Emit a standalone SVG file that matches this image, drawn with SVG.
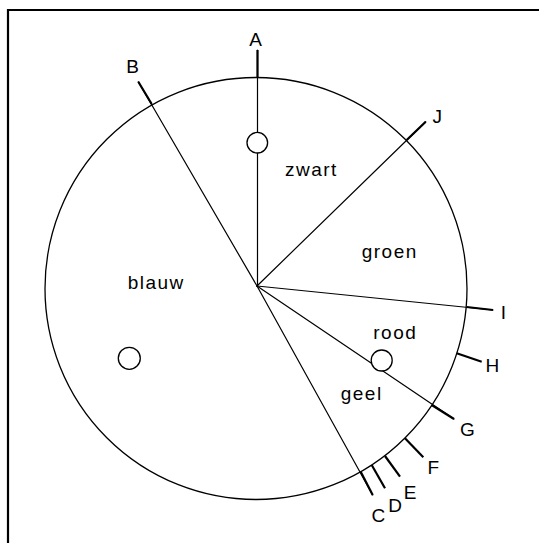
<svg xmlns="http://www.w3.org/2000/svg" width="539" height="543" viewBox="0 0 539 543">
<style>
.thin{stroke:#000;stroke-width:1.2;fill:none;stroke-linecap:round}
.tick{stroke:#000;stroke-width:2.2;fill:none;stroke-linecap:butt}
.ring{stroke:#000;stroke-width:1.3;fill:#fff}
.lab{font-family:"Liberation Sans",Arial,sans-serif;font-size:19px;fill:#000;text-anchor:middle}
.sec{font-family:"Liberation Sans",Arial,sans-serif;font-size:19px;fill:#000;letter-spacing:1.5px}
</style>
<rect x="0" y="0" width="539" height="543" fill="#fff"/>
<g id="frame">
<line x1="7" y1="10" x2="539" y2="10" stroke="#000" stroke-width="2.2"/>
<line x1="8" y1="9" x2="8" y2="543" stroke="#000" stroke-width="2.2"/>
</g>
<g id="disc">
<circle cx="256" cy="288.5" r="211" fill="none" stroke="#000" stroke-width="1.3"/>
</g>
<g id="connectors">
<line class="thin" x1="257.5" y1="286" x2="257.5" y2="50"/>
<line class="tick" x1="257.5" y1="78" x2="257.5" y2="50"/>
<line class="thin" x1="257" y1="286" x2="138.3" y2="81.7"/>
<line class="tick" x1="151.7" y1="104" x2="138.3" y2="81.7"/>
<line class="thin" x1="257" y1="286" x2="425.7" y2="121.7"/>
<line class="tick" x1="406.7" y1="140" x2="425.7" y2="121.7"/>
<line class="thin" x1="257" y1="286" x2="493" y2="310"/>
<line class="tick" x1="466.7" y1="307" x2="493" y2="310"/>
<line class="tick" x1="456.7" y1="353.3" x2="481.7" y2="361.7"/>
<line class="thin" x1="257" y1="286" x2="454" y2="419"/>
<line class="tick" x1="431.7" y1="405" x2="454" y2="419"/>
<line class="tick" x1="405" y1="438.3" x2="423.3" y2="457.3"/>
<line class="tick" x1="385" y1="456" x2="400" y2="476.7"/>
<line class="tick" x1="371.7" y1="465" x2="385" y2="488.3"/>
<line class="thin" x1="257" y1="286" x2="372.7" y2="495"/>
<line class="tick" x1="360.7" y1="471.7" x2="372.7" y2="495"/>
</g>
<g id="marker-zwart"><circle class="ring" cx="257.3" cy="142.7" r="10.3"/></g>
<g id="marker-rood"><circle class="ring" cx="381.7" cy="360.5" r="10.5"/></g>
<g id="marker-blauw"><circle class="ring" cx="129.3" cy="358.3" r="11"/></g>
<g id="label-A"><text class="lab" x="255.5" y="46">A</text></g>
<g id="label-B"><text class="lab" x="132.7" y="73">B</text></g>
<g id="label-J"><text class="lab" x="437.3" y="122.7">J</text></g>
<g id="label-I"><text class="lab" x="503.3" y="319">I</text></g>
<g id="label-H"><text class="lab" x="492.3" y="371.7">H</text></g>
<g id="label-G"><text class="lab" x="467.3" y="436">G</text></g>
<g id="label-F"><text class="lab" x="433.3" y="474">F</text></g>
<g id="label-E"><text class="lab" x="410" y="499">E</text></g>
<g id="label-D"><text class="lab" x="395" y="511.5">D</text></g>
<g id="label-C"><text class="lab" x="378.3" y="521.5">C</text></g>
<g id="sector-zwart"><text class="sec" x="285" y="176">zwart</text></g>
<g id="sector-groen"><text class="sec" x="361.7" y="258.3">groen</text></g>
<g id="sector-rood"><text class="sec" x="373.3" y="339">rood</text></g>
<g id="sector-geel"><text class="sec" x="340.7" y="400">geel</text></g>
<g id="sector-blauw"><text class="sec" x="127.7" y="289.3">blauw</text></g>
</svg>
